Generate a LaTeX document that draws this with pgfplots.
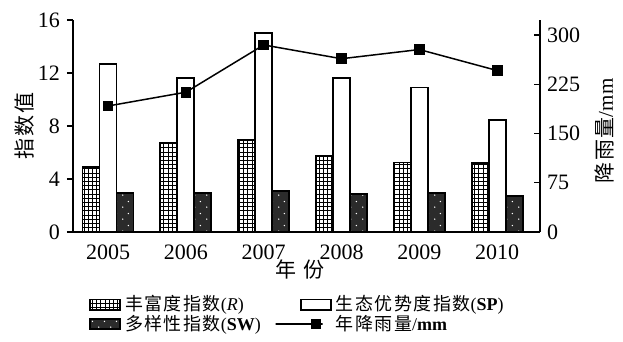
\documentclass[border=0pt]{standalone}
\usepackage{fontspec}
\setmainfont{Liberation Serif}
\newfontfamily\cjk[LetterSpace=8]{Noto Sans CJK SC}
\usepackage{pgfplots}
\pgfplotsset{compat=1.18}
\usetikzlibrary{patterns}
\pgfdeclarepatternformonly{mygrid}{\pgfqpoint{-0.5pt}{-0.5pt}}{\pgfqpoint{2.6pt}{2.6pt}}{\pgfqpoint{2.1pt}{2.1pt}}{%
  \pgfsetlinewidth{0.45pt}%
  \pgfpathmoveto{\pgfqpoint{0pt}{0pt}}\pgfpathlineto{\pgfqpoint{2.1pt}{0pt}}%
  \pgfpathmoveto{\pgfqpoint{0pt}{0pt}}\pgfpathlineto{\pgfqpoint{0pt}{2.1pt}}%
  \pgfusepath{stroke}}
\pgfdeclarepatternformonly{wdots}{\pgfqpoint{0pt}{0pt}}{\pgfqpoint{6pt}{6pt}}{\pgfqpoint{6pt}{6pt}}{%
  \pgfpathcircle{\pgfqpoint{1.5pt}{1.5pt}}{0.4pt}%
  \pgfpathcircle{\pgfqpoint{4.5pt}{4.5pt}}{0.4pt}%
  \pgfusepath{fill}}
\definecolor{darkbar}{HTML}{2B2B2B}
\pgfplotsset{
  barleg/.style={legend image code/.code={\draw[##1] (0pt,-2.6pt) rectangle (15pt,2.6pt);}},
  lineleg/.style={legend image code/.code={\draw[##1,mark repeat=2,mark phase=2] plot coordinates {(0pt,0pt) (7.5pt,0pt) (15pt,0pt)};}},
}
\begin{document}
\begin{tikzpicture}
\begin{axis}[
  at={(0,0)}, anchor=south west,
  width=233.5pt, height=106pt, scale only axis,
  xmin=-0.45, xmax=5.55, ymin=0, ymax=16,
  axis x line*=bottom, axis y line*=left,
  axis line style={line width=0.7pt},
  ybar=0pt, bar width=8.5pt,
  xtick={0,1,2,3,4,5}, xticklabels={2005,2006,2007,2008,2009,2010},
  x tick style={draw=none},
  ytick={0,4,8,12,16},
  y tick style={black, line width=0.6pt},
  tick align=outside, major tick length=3pt,
  tick label style={font=\fontsize{11}{13}\selectfont},
  /pgf/number format/assume math mode=true,
  xlabel={\cjk 年 份},
  every axis x label/.style={at={(axis description cs:0.486,-0.179)}, anchor=center, font=\fontsize{10.5}{12}\selectfont},
  ylabel={\cjk 指数值},
  every axis y label/.style={at={(axis description cs:-0.103,0.5)}, rotate=90, anchor=center, font=\fontsize{10.5}{12}\selectfont},
  legend columns=2,
  legend cell align=left,
  legend style={at={(axis description cs:0.021,-0.26)}, anchor=north west, draw=none, fill=none,
    font=\fontsize{9}{10.5}\selectfont, row sep=-3.5pt,
    /tikz/every even column/.append style={column sep=5pt}},
]
\addplot[draw=black, line width=0.9pt, pattern=mygrid, pattern color=black, barleg]
  coordinates {(0,4.9) (1,6.7) (2,6.95) (3,5.75) (4,5.25) (5,5.2)};
\addlegendentry{{\cjk 丰富度指数}(\textit{R})}
\addplot[draw=black, line width=0.9pt, fill=white, barleg]
  coordinates {(0,12.65) (1,11.65) (2,15.0) (3,11.65) (4,10.9) (5,8.45)};
\addlegendentry{{\cjk 生态优势度指数}(\textbf{SP})}
\addplot[draw=black, line width=0.9pt, fill=darkbar, postaction={pattern=wdots, pattern color=white}, barleg]
  coordinates {(0,2.95) (1,2.92) (2,3.12) (3,2.84) (4,2.92) (5,2.72)};
\addlegendentry{{\cjk 多样性指数}(\textbf{SW})}
\addlegendimage{black, line width=0.75pt, mark=square*, mark size=2.3pt, lineleg}
\addlegendentry{{\cjk 年降雨量}/\textbf{mm}}
\end{axis}
\begin{axis}[
  at={(0,0)}, anchor=south west,
  width=233.5pt, height=106pt, scale only axis,
  xmin=-0.45, xmax=5.55, ymin=0, ymax=323,
  axis y line*=right, axis x line=none,
  axis line style={line width=0.7pt},
  ytick={0,75,150,225,300},
  y tick style={black, line width=0.6pt},
  tick align=inside, major tick length=3pt,
  tick label style={font=\fontsize{11}{13}\selectfont},
  /pgf/number format/assume math mode=true,
  ylabel={{\cjk 降雨量}/mm},
  every axis y label/.style={at={(axis description cs:1.139,0.476)}, rotate=90, anchor=center, font=\fontsize{10.5}{12}\selectfont},
]
\addplot[black, line width=0.75pt, mark=square*, mark size=2.3pt]
  coordinates {(0,192) (1,213) (2,285) (3,264) (4,278) (5,246)};
\end{axis}
\path (-36.5pt,-52.5pt) rectangle (275pt,116pt);
\end{tikzpicture}
\end{document}
